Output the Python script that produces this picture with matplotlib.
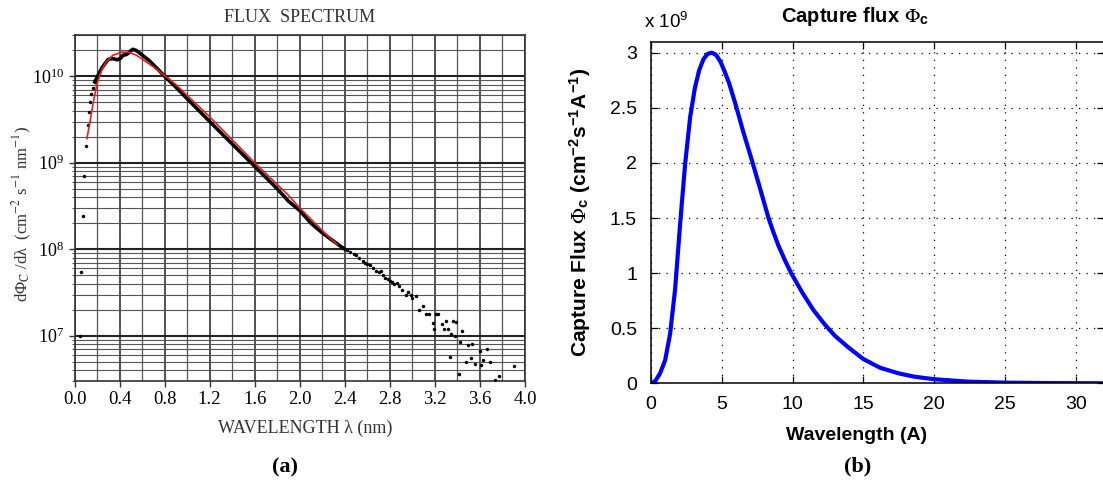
import matplotlib
matplotlib.use('Agg')
import matplotlib.pyplot as plt
from matplotlib.ticker import MultipleLocator, LogLocator, NullFormatter, FuncFormatter

plt.rcParams['font.family'] = 'Liberation Serif'
plt.rcParams['mathtext.fontset'] = 'stix'

# ---- panel (a): measured flux spectrum (log scale) ----
dots_low_x = [0.05, 0.055, 0.075, 0.085, 0.10, 0.12, 0.13, 0.14, 0.15, 0.165, 0.18]
dots_low_y = [1.0e7, 5.5e7, 2.4e8, 7.0e8, 1.55e9, 2.7e9, 3.9e9, 5.1e9, 6.2e9, 7.4e9, 8.6e9]

dense_x = [0.18, 0.21, 0.24, 0.27, 0.30, 0.34, 0.38, 0.41, 0.43, 0.46, 0.48, 0.50, 0.52,
           0.55, 0.58, 0.62, 0.66, 0.70, 0.75, 0.80, 0.90, 1.00, 1.20, 1.40, 1.60, 1.80,
           1.90, 2.00, 2.10, 2.20, 2.30, 2.40]
dense_y = [8.6e9, 1.03e10, 1.23e10, 1.40e10, 1.57e10, 1.60e10, 1.55e10, 1.62e10, 1.75e10,
           1.78e10, 1.86e10, 1.98e10, 2.05e10, 1.98e10, 1.85e10, 1.68e10, 1.53e10, 1.36e10,
           1.17e10, 1.0e10, 7.5e9, 5.5e9, 3.0e9, 1.65e9, 9.1e8, 5.0e8, 3.6e8, 2.8e8, 2.0e8,
           1.55e8, 1.24e8, 1.0e8]

tail_x = [2.42, 2.45, 2.48, 2.50, 2.53, 2.56, 2.58, 2.60, 2.62, 2.65, 2.68, 2.70, 2.72,
          2.74, 2.76, 2.78, 2.80, 2.82, 2.84, 2.86, 2.88, 2.91, 2.94, 2.96, 2.99, 3.00,
          3.03, 3.06, 3.09, 3.12, 3.15, 3.18, 3.19, 3.21, 3.23, 3.26, 3.28, 3.30, 3.32,
          3.33, 3.34, 3.36, 3.38, 3.39, 3.41, 3.42, 3.44, 3.48, 3.49, 3.52, 3.53, 3.56,
          3.60, 3.61, 3.63, 3.66, 3.69, 3.73, 3.77, 3.90]
tail_y = [9.8e7, 9.4e7, 8.8e7, 8.5e7, 7.9e7, 7.4e7, 7.0e7, 6.7e7, 6.5e7, 6.1e7, 5.6e7,
          5.4e7, 5.6e7, 5.1e7, 4.7e7, 4.5e7, 4.3e7, 4.2e7, 4.0e7, 4.1e7, 3.8e7, 3.4e7,
          3.0e7, 3.2e7, 3.0e7, 2.7e7, 2.9e7, 2.0e7, 2.2e7, 1.8e7, 1.8e7, 1.4e7, 1.2e7,
          1.8e7, 1.78e7, 1.35e7, 1.2e7, 1.5e7, 1.2e7, 5.7e6, 1.04e7, 1.5e7, 1.0e7, 1.46e7,
          3.6e6, 8.5e6, 1.14e7, 5.0e6, 7.8e6, 5.6e6, 8.0e6, 4.7e6, 6.7e6, 4.6e6, 5.3e6,
          7.0e6, 5.0e6, 3.1e6, 3.4e6, 4.5e6]

fit_x = [0.11, 0.14, 0.17, 0.20, 0.24, 0.28, 0.34, 0.42, 0.48, 0.55, 0.66, 0.78, 0.90,
         1.20, 1.60, 1.90, 2.00, 2.20, 2.33]
fit_y = [1.9e9, 3.1e9, 5.3e9, 8.2e9, 1.17e10, 1.46e10, 1.75e10, 1.9e10, 1.9e10, 1.75e10,
         1.4e10, 1.07e10, 8.0e9, 3.4e9, 1.0e9, 4.2e8, 3.0e8, 1.65e8, 1.13e8]

# ---- panel (b): capture flux (linear scale) ----
cap_x = [0.0, 0.3, 0.64, 1.0, 1.35, 1.7, 2.06, 2.41, 2.77, 3.1, 3.4, 3.7, 4.0, 4.3, 4.6,
         4.9, 5.2, 5.5, 6.0, 6.5, 7.18, 7.7, 8.3, 8.65, 9.0, 9.45, 9.9, 10.7, 11.5, 12.3,
         13.0, 13.9, 15.0, 16.2, 17.5, 18.6, 20.0, 22.4, 25.0, 28.0, 32.0]
cap_y = [0.0, 0.02, 0.09, 0.21, 0.45, 0.85, 1.45, 1.99, 2.42, 2.68, 2.84, 2.94, 2.99, 3.0,
         2.98, 2.92, 2.83, 2.73, 2.52, 2.29, 2.0, 1.77, 1.5, 1.37, 1.25, 1.12, 1.0, 0.82,
         0.66, 0.53, 0.43, 0.33, 0.22, 0.14, 0.09, 0.06, 0.037, 0.015, 0.006, 0.002, 0.0]
cap_y = [v * 1e9 for v in cap_y]

W, H = 1103, 488
fig = plt.figure(figsize=(W / 100, H / 100), dpi=100)


def box(x0, y0, x1, y1):
    return [x0 / W, 1 - y1 / H, (x1 - x0) / W, (y1 - y0) / H]


# ---------------- left ----------------
ax = fig.add_axes(box(74.5, 35, 525, 381))
ax.set_yscale('log')
ax.set_xlim(0, 4.0)
ax.set_ylim(3e6, 3e10)
ax.xaxis.set_major_locator(MultipleLocator(0.4))
ax.xaxis.set_minor_locator(MultipleLocator(0.2))
ax.xaxis.set_major_formatter(FuncFormatter(lambda v, p: '%.1f' % v))
ax.yaxis.set_major_locator(LogLocator(base=10, numticks=10))
ax.yaxis.set_minor_locator(LogLocator(base=10, subs=range(2, 10), numticks=20))
ax.yaxis.set_minor_formatter(NullFormatter())
ax.grid(which='major', axis='x', color='#333333', lw=1.2)
ax.grid(which='minor', axis='x', color='#555555', lw=0.9)
ax.grid(which='major', axis='y', color='#222222', lw=1.5)
ax.grid(which='minor', axis='y', color='#555555', lw=0.8)
ax.set_axisbelow(True)
ax.tick_params(which='both', direction='out', color='#333333')
ax.tick_params(axis='x', labelsize=13.5)
ax.tick_params(axis='y', labelsize=13)
ax.tick_params(which='major', length=4, width=1)
ax.tick_params(which='minor', length=2)
ax.tick_params(axis='x', which='minor', length=0)
for s in ax.spines.values():
    s.set_color('#333333')
    s.set_linewidth(1.2)

ax.plot(dense_x, dense_y, color='black', lw=2.6, zorder=3)
ax.plot(dots_low_x + tail_x, dots_low_y + tail_y, 'o', color='black', ms=2.5, mew=0, zorder=3)
ax.plot(fit_x, fit_y, color='#e02020', lw=1.2, zorder=4)

ax.set_xlabel('WAVELENGTH λ (nm)', fontsize=13, color='#333333')
ax.xaxis.set_label_coords((305 - 74.5) / 450.5, (381 - 428) / 346)
ax.xaxis.label.set_va('center')
ax.set_ylabel('dΦ$_{\\rm C}$ /dλ  (cm$^{-2}$ s$^{-1}$ nm$^{-1}$)', fontsize=12, color='#333333')
ax.yaxis.set_label_coords((22 - 74.5) / 450.5, (381 - 214) / 346)
ax.yaxis.label.set_va('center')
fig.text(300 / W, 1 - 18 / H, 'FLUX  SPECTRUM', ha='center', va='center', fontsize=13,
         color='#333333')
fig.text(285 / W, 1 - 467 / H, '(a)', ha='center', va='center', fontsize=16,
         fontweight='bold')

# ---------------- right ----------------
sans = 'Liberation Sans'
ax2 = fig.add_axes(box(651, 41.7, 1104, 383.3))
ax2.plot(cap_x, cap_y, color='#0000ff', lw=3.0, solid_capstyle='round',
         solid_joinstyle='round')
ax2.set_xlim(0, 32)
ax2.set_ylim(0, 3.1e9)
ax2.xaxis.set_major_locator(MultipleLocator(5))
ax2.yaxis.set_major_locator(MultipleLocator(0.5e9))
ax2.yaxis.set_major_formatter(FuncFormatter(lambda v, p: '%g' % (v / 1e9)))
ax2.grid(True, color='black', lw=0.9, linestyle=(0, (1, 5)))
ax2.tick_params(direction='in', top=True, right=True, length=5, width=0.9,
                labelsize=14, labelfontfamily=sans)
ax2.tick_params(axis='y', pad=10)
ax2.tick_params(axis='x', pad=9)
for s in ax2.spines.values():
    s.set_linewidth(1.1)

ax2.set_xlabel('Wavelength (A)', fontsize=14, fontweight='bold', family=sans)
ax2.xaxis.set_label_coords((856 - 651) / 452, (383.3 - 435) / 341.6)
ax2.xaxis.label.set_va('center')
ax2.set_ylabel('Capture Flux $\\Phi_\\mathregular{c}$ (cm$^\\mathregular{−2}$s$^\\mathregular{−1}$A$^\\mathregular{−1}$)',
               fontsize=15, fontweight='bold', family=sans)
ax2.yaxis.set_label_coords((580 - 651) / 452, (383.3 - 212) / 341.6)
ax2.yaxis.label.set_va('center')
fig.text(855 / W, 1 - 16 / H, 'Capture flux $\\Phi_\\mathregular{c}$', ha='center', va='center',
         fontsize=14.5, fontweight='bold', family=sans)
fig.text(644 / W, 1 - 22 / H, 'x 10$^\\mathregular{9}$', ha='left', va='center',
         fontsize=13.5, family=sans)
fig.text(858 / W, 1 - 466 / H, '(b)', ha='center', va='center', fontsize=16,
         fontweight='bold')

fig.savefig('out.png', dpi=100)
